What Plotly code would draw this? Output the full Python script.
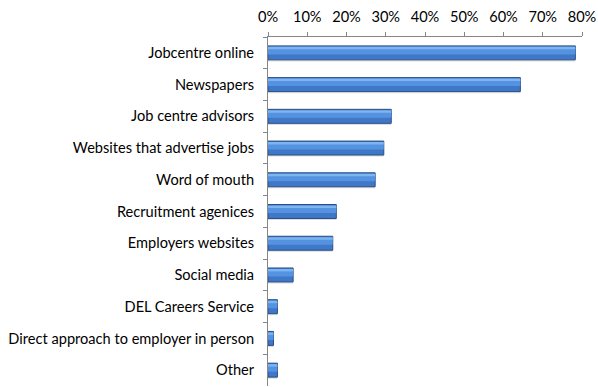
import plotly.graph_objects as go

# Job search channels used (percentage of respondents)
categories = [
    "Jobcentre online",
    "Newspapers",
    "Job centre advisors",
    "Websites that advertise jobs",
    "Word of mouth",
    "Recruitment agenices",
    "Employers websites",
    "Social media",
    "DEL Careers Service",
    "Direct approach to employer in person",
    "Other",
]
values = [78.3, 64.3, 31.4, 29.5, 27.3, 17.4, 16.5, 6.4, 2.4, 1.4, 2.4]
tick_values = [0, 10, 20, 30, 40, 50, 60, 70, 80]
tick_labels = [f"{v}%" for v in tick_values]

FONT = "Lato"
FONT_SIZE = 14.6
BAR_W = 0.44

fig = go.Figure()

# soft drop shadow beneath each bar
fig.add_trace(go.Bar(
    y=categories, x=values, orientation="h",
    width=BAR_W, offset=-BAR_W / 2 + 0.05,
    marker=dict(color="rgba(120,120,120,0.25)", line=dict(width=0)),
    hoverinfo="skip", showlegend=False,
))
# main bar body with dark outline
fig.add_trace(go.Bar(
    y=categories, x=values, orientation="h",
    width=BAR_W, offset=-BAR_W / 2,
    marker=dict(color="#3F78C8", line=dict(color="#2A4F84", width=1)),
    showlegend=False,
))
# lighter band in the middle of the bar
fig.add_trace(go.Bar(
    y=categories, x=values, orientation="h",
    width=BAR_W * 0.45, offset=-BAR_W / 2 + 0.07,
    marker=dict(color="#5592E0", line=dict(width=0)),
    hoverinfo="skip", showlegend=False,
))
# bright highlight along the upper edge
fig.add_trace(go.Bar(
    y=categories, x=values, orientation="h",
    width=BAR_W * 0.18, offset=-BAR_W / 2 + 0.03,
    marker=dict(color="#7DB4F2", line=dict(width=0)),
    hoverinfo="skip", showlegend=False,
))

fig.update_layout(
    width=598, height=387,
    margin=dict(l=268, r=16, t=37, b=1),
    paper_bgcolor="white", plot_bgcolor="white",
    barmode="overlay",
    font=dict(family=FONT, size=FONT_SIZE, color="#000000"),
    xaxis=dict(
        side="top", range=[0, 80],
        tickvals=tick_values, ticktext=tick_labels,
        showgrid=False, zeroline=False,
        showline=True, linecolor="#868686", linewidth=1,
        ticks="outside", ticklen=4, tickcolor="#868686",
        ticklabelstandoff=4,
        tickfont=dict(family=FONT, size=FONT_SIZE),
    ),
    yaxis=dict(
        autorange="reversed",
        showgrid=False, zeroline=False,
        showline=True, linecolor="#868686", linewidth=1,
        ticks="outside", ticklen=4, tickcolor="#868686",
        tickson="boundaries",
        ticklabelstandoff=10,
        tickfont=dict(family=FONT, size=FONT_SIZE),
    ),
)

fig.write_html("out.html")
